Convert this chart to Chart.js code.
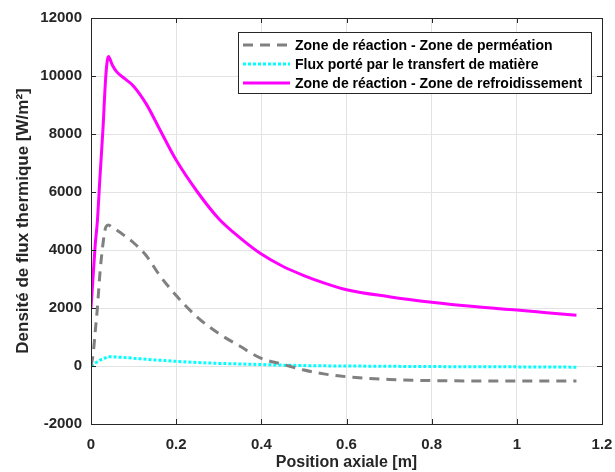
<!DOCTYPE html>
<html>
<head>
<meta charset="UTF-8">
<title>Densité de flux thermique</title>
<script src="https://cdn.jsdelivr.net/npm/chart.js@4.4.1/dist/chart.umd.min.js"></script>
<style>
  body { margin: 0; background: #fff; }
  #wrap { width: 615px; height: 472px; }
</style>
</head>
<body>
<div id="wrap"><canvas id="canvas"></canvas></div>
<script>
// position axiale [m]
const positions = [0, 0.005, 0.01, 0.015, 0.021, 0.028, 0.035, 0.041, 0.05, 0.06, 0.08, 0.1, 0.13, 0.16, 0.2,
  0.25, 0.3, 0.35, 0.4, 0.45, 0.5, 0.55, 0.6, 0.7, 0.8, 0.9, 1.0, 1.07, 1.14];

// Zone de réaction - Zone de perméation
const permeation = [0, 400, 1200, 2000, 3200, 4200, 4800, 4860, 4780, 4690, 4480, 4250, 3800, 3150, 2430,
  1680, 1120, 680, 260, 60, -140, -280, -370, -465, -505, -515, -520, -520, -520];

// Flux porté par le transfert de matière
const transfert = [0, 50, 100, 150, 200, 250, 290, 320, 320, 310, 290, 270, 230, 200, 160,
  120, 90, 70, 50, 30, 15, 5, 0, -10, -20, -25, -30, -35, -40];

// Zone de réaction - Zone de refroidissement
const refroid = [2000, 3100, 4200, 5000, 6500, 8150, 10050, 10670, 10380, 10150, 9900, 9650, 9030, 8200, 7100,
  6000, 5080, 4420, 3860, 3440, 3120, 2850, 2630, 2390, 2200, 2050, 1930, 1840, 1750];

const xTicks = [0, 0.2, 0.4, 0.6, 0.8, 1, 1.2];
const yTicks = [-2000, 0, 2000, 4000, 6000, 8000, 10000, 12000];

const labels = ["Zone de réaction - Zone de perméation",
  "Flux porté par le transfert de matière",
  "Zone de réaction - Zone de refroidissement"];

const FONT = "'Liberation Sans', Arial, Helvetica, sans-serif";

function pts(ys) {
  return positions.map((x, i) => ({ x: x, y: ys[i] }));
}

// cadre + petites graduations vers l'intérieur + légende
const boxPlugin = {
  id: 'box',
  afterDraw(chart) {
    const ctx = chart.ctx;
    const a = chart.chartArea;
    const sx = chart.scales.x, sy = chart.scales.y;
    ctx.save();
    ctx.strokeStyle = '#262626';
    ctx.lineWidth = 1;
    ctx.strokeRect(a.left + 0.5, a.top + 0.5, a.right - a.left, a.bottom - a.top);
    ctx.beginPath();
    xTicks.forEach(v => {
      const px = Math.round(sx.getPixelForValue(v)) + 0.5;
      ctx.moveTo(px, a.bottom); ctx.lineTo(px, a.bottom - 5);
      ctx.moveTo(px, a.top); ctx.lineTo(px, a.top + 5);
    });
    yTicks.forEach(v => {
      const py = Math.round(sy.getPixelForValue(v)) + 0.5;
      ctx.moveTo(a.left, py); ctx.lineTo(a.left + 5, py);
      ctx.moveTo(a.right, py); ctx.lineTo(a.right - 5, py);
    });
    ctx.stroke();

    // légende
    const lx = 238.5, ly = 32.5, lw = 353, lh = 61;
    ctx.fillStyle = '#fff';
    ctx.fillRect(lx, ly, lw, lh);
    ctx.strokeStyle = '#262626';
    ctx.strokeRect(lx, ly, lw, lh);
    ctx.font = 'bold 14px ' + FONT;
    ctx.textBaseline = 'middle';
    chart.data.datasets.forEach((ds, i) => {
      const y = 45 + i * 19;
      ctx.beginPath();
      ctx.strokeStyle = ds.borderColor;
      ctx.lineWidth = ds.borderWidth;
      ctx.setLineDash(ds.borderDash || []);
      ctx.moveTo(243, y); ctx.lineTo(290, y);
      ctx.stroke();
      ctx.setLineDash([]);
      ctx.fillStyle = '#000';
      ctx.fillText(labels[i], 295, y + 1);
    });
    ctx.restore();
  }
};

new Chart(document.getElementById('canvas'), {
  type: 'line',
  data: {
    datasets: [
      { label: labels[0], data: pts(permeation), borderColor: '#808080', borderWidth: 3, borderDash: [10, 7] },
      { label: labels[1], data: pts(transfert), borderColor: '#00ffff', borderWidth: 3, borderDash: [3, 2] },
      { label: labels[2], data: pts(refroid), borderColor: '#ff00ff', borderWidth: 3 }
    ]
  },
  options: {
    responsive: true,
    maintainAspectRatio: false,
    animation: false,
    layout: { padding: { top: 18, right: 13, left: 0, bottom: 0 } },
    elements: {
      point: { radius: 0 },
      line: { cubicInterpolationMode: 'monotone', fill: false }
    },
    plugins: { legend: { display: false }, tooltip: { enabled: false } },
    scales: {
      x: {
        type: 'linear', min: 0, max: 1.2,
        afterFit: s => { s.height = 48; s.paddingLeft = 0; s.paddingRight = 0; },
        afterBuildTicks: s => { s.ticks = xTicks.map(v => ({ value: v })); },
        grid: { color: '#e3e3e3', drawTicks: false },
        border: { display: false },
        ticks: {
          padding: 12, color: '#262626',
          font: { family: FONT, size: 15, weight: 'bold' },
          callback: v => String(+v.toFixed(1))
        },
        title: {
          display: true, text: 'Position axiale [m]', color: '#262626',
          font: { family: FONT, size: 16, weight: 'bold' }, padding: { top: 6, bottom: 0 }
        }
      },
      y: {
        type: 'linear', min: -2000, max: 12000,
        afterFit: s => { s.width = 91; },
        afterBuildTicks: s => { s.ticks = yTicks.map(v => ({ value: v })); },
        grid: { color: '#e3e3e3', drawTicks: false },
        border: { display: false },
        ticks: {
          padding: 9, color: '#262626',
          font: { family: FONT, size: 15, weight: 'bold' },
          callback: v => String(v)
        },
        title: {
          display: true, text: 'Densité de flux thermique [W/m²]', color: '#262626',
          font: { family: FONT, size: 17, weight: 'bold' }, padding: { top: 13, bottom: 0 }
        }
      }
    }
  },
  plugins: [boxPlugin]
});
</script>
</body>
</html>
